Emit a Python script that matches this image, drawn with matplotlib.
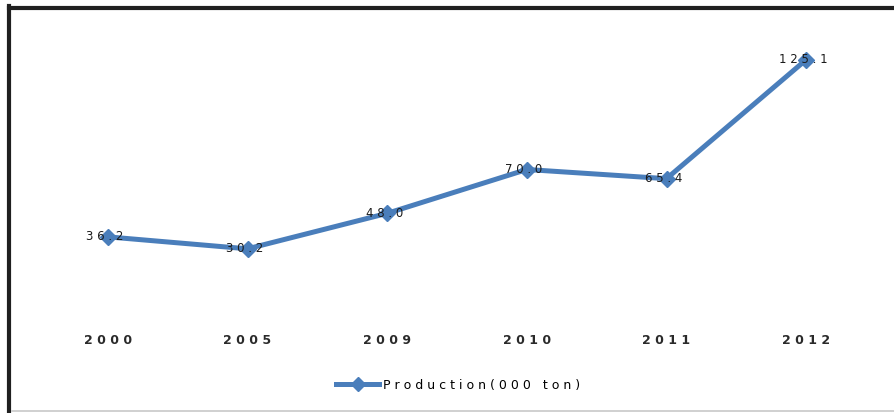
import matplotlib
matplotlib.use("Agg")
import matplotlib.pyplot as plt
from matplotlib.lines import Line2D

years = ["2000", "2005", "2009", "2010", "2011", "2012"]
production = [36.2, 30.2, 48.0, 70.0, 65.4, 125.1]
series_name = "Production(000 ton)"

W, H = 894, 413
BLUE = "#4a7ebb"


def spaced(s):
    # wide letter tracking for the labels
    return " ".join(s)


fig = plt.figure(figsize=(W / 100, H / 100), dpi=100)
ax = fig.add_axes([38 / W, 1 - 309 / H, (876 - 38) / W, (309 - 30) / H])

x = list(range(len(years)))
line, = ax.plot(x, production, color=BLUE, lw=3.6, marker="D", ms=8,
                mfc=BLUE, mec=BLUE, solid_joinstyle="round")

for xi, v in zip(x, production):
    ax.text(xi - 0.02, v, spaced(f"{v:.1f}"), ha="center", va="center",
            fontsize=8.5, color="#1a1a1a", zorder=5)

ax.set_xlim(-0.5, len(years) - 0.5)
ax.set_ylim(0, 140)
ax.set_xticks(x)
ax.set_xticklabels([spaced(y) for y in years], fontsize=9, color="#2a2a2a",
                   fontweight="semibold")
ax.tick_params(axis="x", length=0, pad=18)
ax.set_yticks([])
for s in ax.spines.values():
    s.set_visible(False)

leg = fig.legend([line], [spaced(series_name)], loc="center",
                 bbox_to_anchor=(458 / W, 1 - 385 / H), frameon=False,
                 fontsize=9, handlelength=3.4, handletextpad=0.3,
                 markerscale=0.9)

# outer frame: heavy dark top and left edges, light bottom rule
fig.add_artist(Line2D([9 / W, 1], [1 - 8 / H, 1 - 8 / H], color="#202020",
                      lw=3.0, transform=fig.transFigure))
fig.add_artist(Line2D([9 / W, 9 / W], [0, 1 - 6 / H], color="#202020",
                      lw=3.0, transform=fig.transFigure))
fig.add_artist(Line2D([12 / W, 1], [1 - 411 / H, 1 - 411 / H], color="#c8c8c8",
                      lw=1.2, transform=fig.transFigure))

fig.savefig("out.png", dpi=100, facecolor="white")
